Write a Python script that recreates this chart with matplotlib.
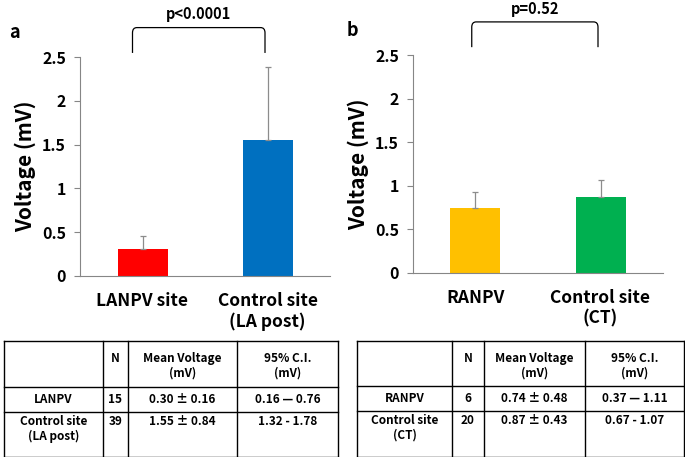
"""
Bar charts of bipolar voltage: LANPV vs LA posterior wall (a),
RANPV vs crista terminalis (b), each with a summary table below.
"""

import matplotlib.pyplot as plt
from matplotlib.path import Path
from matplotlib.patches import PathPatch

plt.rcParams["font.family"] = ["Noto Sans CJK JP", "DejaVu Sans"]
plt.rcParams["font.weight"] = "bold"

# panel a
a_labels = ["LANPV site", "Control site\n(LA post)"]
a_means = [0.30, 1.55]
a_err = [0.16, 0.84]
a_colors = ["#FF0000", "#0070C0"]
a_p = "p<0.0001"

# panel b (error bar heights as drawn in the figure)
b_labels = ["RANPV", "Control site\n(CT)"]
b_means = [0.74, 0.87]
b_err = [0.19, 0.20]
b_colors = ["#FFC000", "#00B050"]
b_p = "p=0.52"

yticks = [0, 0.5, 1, 1.5, 2, 2.5]
ytick_labels = ["0", "0.5", "1", "1.5", "2", "2.5"]

table_header = ["", "N", "Mean Voltage\n(mV)", "95% C.I.\n(mV)"]
a_rows = [["LANPV", "15", "0.30 ± 0.16", "0.16 — 0.76"],
          ["Control site\n(LA post)", "39", "1.55 ± 0.84", "1.32 - 1.78"]]
b_rows = [["RANPV", "6", "0.74 ± 0.48", "0.37 — 1.11"],
          ["Control site\n(CT)", "20", "0.87 ± 0.43", "0.67 - 1.07"]]

W, H = 685, 457


def px_axes(fig, left, top, right, bottom):
    return fig.add_axes([left / W, 1 - bottom / H, (right - left) / W, (bottom - top) / H])


def bracket(ax, x0, x1, y0, y1, rx=0.035, ry=0.06):
    # square bracket with slightly rounded corners
    verts = [(x0, y0), (x0, y1 - ry), (x0, y1), (x0 + rx, y1),
             (x1 - rx, y1), (x1, y1), (x1, y1 - ry), (x1, y0)]
    codes = [Path.MOVETO, Path.LINETO, Path.CURVE3, Path.CURVE3,
             Path.LINETO, Path.CURVE3, Path.CURVE3, Path.LINETO]
    ax.add_patch(PathPatch(Path(verts, codes), fill=False, lw=0.9,
                           edgecolor="black", clip_on=False))


def bar_panel(ax, labels, means, err, colors, ptext, br_x, br_y, p_y):
    x = range(len(means))
    ax.bar(x, means, width=0.4, color=colors)
    ax.errorbar(x, means, yerr=[[0] * len(err), err], fmt="none",
                ecolor="#8c8c8c", elinewidth=0.9, capsize=2.5, capthick=0.9)
    ax.set_xlim(-0.5, 1.5)
    ax.set_ylim(0, 2.5)
    ax.set_yticks(yticks)
    ax.set_yticklabels(ytick_labels, fontsize=11.5, fontweight="bold")
    ax.set_xticks(list(x))
    ax.set_xticklabels(labels, fontsize=12.5, fontweight="bold", linespacing=1.15)
    ax.tick_params(axis="x", length=0, pad=12)
    ax.tick_params(axis="y", length=4, color="#868686", pad=6)
    for s in ["top", "right"]:
        ax.spines[s].set_visible(False)
    for s in ["left", "bottom"]:
        ax.spines[s].set_color("#868686")
    ax.set_ylabel("Voltage (mV)", fontsize=15, fontweight="bold", labelpad=4)
    bracket(ax, br_x[0], br_x[1], br_y[0], br_y[1])
    ax.text((br_x[0] + br_x[1]) / 2, p_y, ptext, ha="center", va="center",
            fontsize=10.5, fontweight="bold")


def draw_table(ax, cols, row_bounds, header, rows):
    # cols: x pixel boundaries, row_bounds: y pixel boundaries
    for xb in cols:
        ax.plot([xb, xb], [row_bounds[0], row_bounds[-1]], color="black", lw=1)
    for yb in row_bounds:
        ax.plot([cols[0], cols[-1]], [yb, yb], color="black", lw=1)
    offsets = [11, None, 3]
    for r, row in enumerate([header] + rows):
        ytop = row_bounds[r]
        ybot = row_bounds[r + 1]
        for c, txt in enumerate(row):
            xc = (cols[c] + cols[c + 1]) / 2
            if offsets[r] is None:
                ax.text(xc, (ytop + ybot) / 2, txt, ha="center", va="center",
                        fontsize=8.5, fontweight="bold")
            else:
                ax.text(xc, ytop + offsets[r], txt, ha="center", va="top",
                        fontsize=8.5, fontweight="bold", linespacing=1.2)


fig = plt.figure(figsize=(6.85, 4.57), dpi=100)

ax_a = px_axes(fig, 80, 57.3, 330, 275.7)
bar_panel(ax_a, a_labels, a_means, a_err, a_colors, a_p,
          (-0.08, 0.98), (2.55, 2.84), 3.0)

ax_b = px_axes(fig, 413, 55, 663, 272.7)
bar_panel(ax_b, b_labels, b_means, b_err, b_colors, b_p,
          (-0.03, 0.98), (2.59, 2.88), 3.03)

# overlay in pixel coordinates for tables and panel letters
ov = fig.add_axes([0, 0, 1, 1])
ov.set_xlim(0, W)
ov.set_ylim(H, 0)
ov.axis("off")
ov.patch.set_alpha(0)

ov.text(14, 32, "a", ha="center", va="center", fontsize=13, fontweight="bold")
ov.text(352, 30, "b", ha="center", va="center", fontsize=13, fontweight="bold")

draw_table(ov, [4, 103, 128, 237, 338], [341, 387, 412, 456.5], table_header, a_rows)
draw_table(ov, [357, 452, 484, 585, 684.5], [341, 386, 411, 456.5], table_header, b_rows)

fig.savefig("out.png", dpi=100)
